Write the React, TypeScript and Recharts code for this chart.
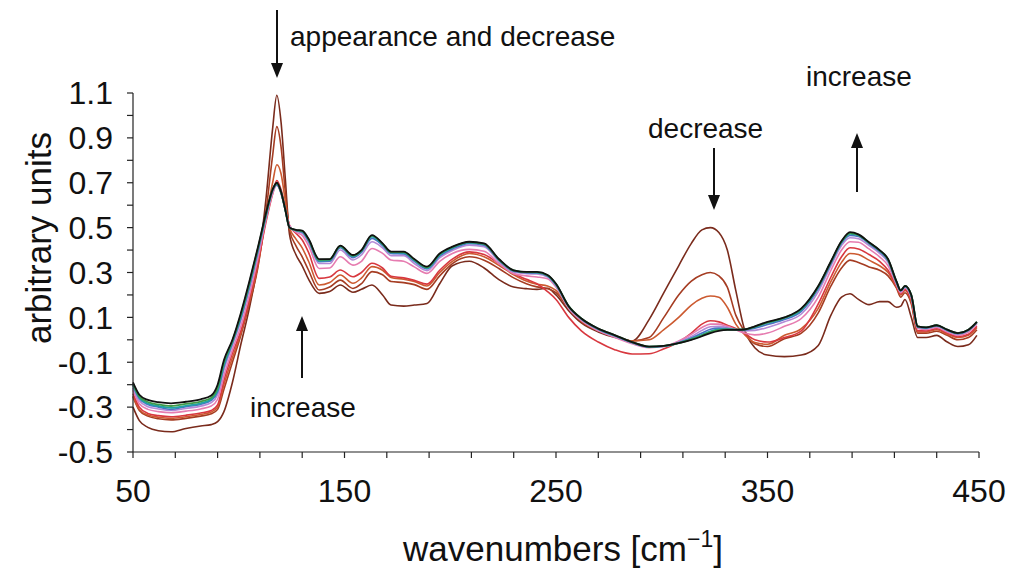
import React from "react";
import { LineChart, Line, XAxis, YAxis } from "recharts";

// wavenumber grid (cm-1) the spectra are sampled on
const WAVENUMBERS = [
  50, 53, 57, 62, 68, 75, 82, 87, 90, 93,
  97, 101, 105, 109, 113, 116, 118, 120, 122, 124,
  127, 130, 133, 138, 143, 148, 154, 158, 163, 168,
  172, 178, 183, 189, 195, 201, 209, 216, 223, 230,
  236, 241, 246, 250, 256, 262, 270, 278, 286, 294,
  301, 308, 314, 319, 323, 327, 331, 335, 339, 344,
  350, 358, 366, 374, 380, 385, 389, 393, 398, 403,
  407, 411, 413, 415, 418, 421, 425, 430, 435, 440,
  445, 449,
];

const S1 = [
  -0.3, -0.36, -0.39, -0.405, -0.41, -0.395, -0.384, -0.378, -0.365, -0.32,
  -0.19, -0.02, 0.14, 0.34, 0.64, 0.94, 1.09, 0.97, 0.72, 0.47,
  0.38, 0.33, 0.27, 0.207, 0.215, 0.244, 0.212, 0.225, 0.244, 0.2,
  0.155, 0.15, 0.155, 0.162, 0.25, 0.33, 0.35, 0.32, 0.268, 0.235,
  0.228, 0.225, 0.23, 0.2, 0.13, 0.075, 0.035, 0.01, -0.005, 0.09,
  0.21, 0.33, 0.43, 0.49, 0.5, 0.478, 0.4, 0.22, 0.05, -0.035,
  -0.068, -0.075, -0.068, -0.025, 0.11, 0.19, 0.205, 0.18, 0.157, 0.17,
  0.17, 0.145, 0.15, 0.18, 0.1, 0.01, 0.01, 0.02, -0.01, -0.03,
  -0.022, 0.02,
];
const S2 = [
  -0.255, -0.315, -0.34, -0.352, -0.357, -0.35, -0.34, -0.33, -0.31, -0.22,
  -0.1, 0.02, 0.16, 0.32, 0.58, 0.82, 0.95, 0.86, 0.66, 0.49,
  0.42, 0.37, 0.31, 0.222, 0.235, 0.266, 0.229, 0.25, 0.304, 0.29,
  0.26, 0.255, 0.246, 0.225, 0.285, 0.34, 0.37, 0.355, 0.318, 0.276,
  0.25, 0.236, 0.228, 0.21, 0.14, 0.08, 0.04, 0.015, -0.005, 0.01,
  0.1, 0.2, 0.262, 0.29, 0.3, 0.285, 0.235, 0.11, 0.04, -0.018,
  -0.03, 0.005, 0.03, 0.12, 0.24, 0.32, 0.355, 0.345, 0.325, 0.31,
  0.285, 0.23, 0.19, 0.21, 0.16, 0.03, 0.03, 0.038, 0.02, 0.0,
  0.01, 0.045,
];
const S3 = [
  -0.25, -0.31, -0.335, -0.345, -0.35, -0.343, -0.333, -0.322, -0.3, -0.2,
  -0.08, 0.03, 0.17, 0.33, 0.55, 0.7, 0.78, 0.74, 0.62, 0.5,
  0.45, 0.41, 0.35, 0.244, 0.255, 0.289, 0.252, 0.275, 0.326, 0.31,
  0.278, 0.27, 0.26, 0.24, 0.3, 0.35, 0.385, 0.37, 0.332, 0.29,
  0.262, 0.248, 0.24, 0.22, 0.145, 0.085, 0.042, 0.015, -0.005, 0.0,
  0.045, 0.1, 0.155, 0.185, 0.195, 0.19, 0.145, 0.07, 0.025, -0.012,
  -0.02, 0.02, 0.05, 0.14, 0.26, 0.345, 0.385, 0.38, 0.355, 0.33,
  0.3, 0.235, 0.2, 0.22, 0.17, 0.035, 0.035, 0.045, 0.025, 0.01,
  0.02, 0.055,
];
const S4 = [
  -0.24, -0.3, -0.328, -0.338, -0.343, -0.336, -0.326, -0.315, -0.29, -0.18,
  -0.06, 0.04, 0.18, 0.34, 0.53, 0.65, 0.71, 0.67, 0.59, 0.51,
  0.475, 0.445, 0.39, 0.274, 0.28, 0.311, 0.281, 0.3, 0.341, 0.32,
  0.283, 0.276, 0.265, 0.248, 0.31, 0.36, 0.392, 0.38, 0.34, 0.295,
  0.27, 0.25, 0.215, 0.18, 0.1, 0.04, -0.01, -0.045, -0.063, -0.062,
  -0.04, -0.01, 0.03, 0.07, 0.085, 0.08, 0.065, 0.05, 0.03, 0.0,
  -0.01, 0.01, 0.04, 0.16, 0.28, 0.37, 0.41, 0.405, 0.38, 0.35,
  0.31, 0.24, 0.205, 0.225, 0.175, 0.04, 0.04, 0.05, 0.03, 0.015,
  0.025, 0.06,
];
const S5 = [
  -0.225, -0.285, -0.31, -0.32, -0.325, -0.318, -0.308, -0.295, -0.265, -0.16,
  -0.045, 0.06, 0.2, 0.36, 0.54, 0.65, 0.69, 0.65, 0.58, 0.51,
  0.48, 0.465, 0.42, 0.318, 0.32, 0.37, 0.333, 0.35, 0.407, 0.385,
  0.356, 0.35, 0.325, 0.296, 0.35, 0.385, 0.403, 0.395, 0.34, 0.295,
  0.285, 0.28, 0.272, 0.235, 0.14, 0.085, 0.04, 0.01, -0.018, -0.035,
  -0.03, -0.005, 0.025, 0.055, 0.07, 0.07, 0.06, 0.045, 0.03, 0.022,
  0.03, 0.06, 0.095, 0.19, 0.31, 0.4, 0.437, 0.435, 0.405, 0.37,
  0.33, 0.245, 0.21, 0.23, 0.185, 0.05, 0.045, 0.055, 0.035, 0.02,
  0.035, 0.07,
];
const S6 = [
  -0.215, -0.272, -0.298, -0.308, -0.315, -0.306, -0.296, -0.28, -0.245, -0.135,
  -0.025, 0.085, 0.225, 0.38, 0.55, 0.66, 0.69, 0.655, 0.58, 0.505,
  0.485, 0.475, 0.435, 0.34, 0.34, 0.4, 0.356, 0.378, 0.437, 0.41,
  0.375, 0.375, 0.34, 0.308, 0.365, 0.398, 0.422, 0.415, 0.35, 0.302,
  0.295, 0.293, 0.28, 0.24, 0.145, 0.09, 0.045, 0.015, -0.014, -0.033,
  -0.03, -0.01, 0.015, 0.042, 0.058, 0.06, 0.055, 0.045, 0.04, 0.042,
  0.055, 0.08, 0.115, 0.215, 0.33, 0.42, 0.455, 0.45, 0.42, 0.385,
  0.345, 0.25, 0.215, 0.235, 0.19, 0.055, 0.05, 0.06, 0.04, 0.025,
  0.04, 0.075,
];
const S7 = [
  -0.205, -0.262, -0.288, -0.3, -0.31, -0.298, -0.288, -0.27, -0.232, -0.12,
  -0.015, 0.095, 0.235, 0.39, 0.555, 0.665, 0.69, 0.655, 0.58, 0.5,
  0.487, 0.48, 0.44, 0.348, 0.35, 0.41, 0.366, 0.39, 0.452, 0.42,
  0.385, 0.383, 0.35, 0.316, 0.373, 0.405, 0.43, 0.422, 0.355, 0.306,
  0.299, 0.298, 0.284, 0.245, 0.148, 0.093, 0.047, 0.017, -0.012, -0.032,
  -0.029, -0.013, 0.008, 0.03, 0.047, 0.052, 0.05, 0.045, 0.043, 0.052,
  0.068, 0.09, 0.127, 0.228, 0.34, 0.43, 0.465, 0.46, 0.428, 0.393,
  0.352, 0.255, 0.218, 0.237, 0.195, 0.057, 0.052, 0.062, 0.042, 0.027,
  0.042, 0.077,
];
const S8 = [
  -0.2, -0.258, -0.284, -0.295, -0.303, -0.294, -0.283, -0.265, -0.225, -0.11,
  -0.01, 0.105, 0.245, 0.4, 0.56, 0.668, 0.695, 0.657, 0.58, 0.5,
  0.488, 0.483, 0.445, 0.352, 0.355, 0.415, 0.372, 0.395, 0.46, 0.425,
  0.389, 0.388, 0.355, 0.32, 0.378, 0.41, 0.433, 0.426, 0.357, 0.308,
  0.301, 0.3, 0.286, 0.247, 0.149, 0.094, 0.048, 0.018, -0.011, -0.031,
  -0.028, -0.014, 0.004, 0.022, 0.038, 0.046, 0.047, 0.045, 0.045, 0.057,
  0.075, 0.096, 0.134, 0.234, 0.345, 0.435, 0.472, 0.465, 0.432, 0.397,
  0.356, 0.258, 0.22, 0.239, 0.198, 0.059, 0.054, 0.064, 0.044, 0.029,
  0.044, 0.079,
];
const S9 = [
  -0.195, -0.252, -0.277, -0.288, -0.295, -0.286, -0.275, -0.258, -0.213, -0.1,
  -0.005, 0.112, 0.252, 0.405, 0.565, 0.669, 0.697, 0.658, 0.58, 0.5,
  0.489, 0.485, 0.448, 0.356, 0.358, 0.418, 0.375, 0.398, 0.464, 0.428,
  0.391, 0.391, 0.358, 0.323, 0.382, 0.413, 0.435, 0.428, 0.358, 0.309,
  0.302, 0.302, 0.288, 0.249, 0.15, 0.095, 0.05, 0.02, -0.01, -0.03,
  -0.027, -0.015, 0.002, 0.019, 0.034, 0.043, 0.046, 0.045, 0.046, 0.059,
  0.078, 0.099, 0.138, 0.238, 0.348, 0.438, 0.476, 0.468, 0.434, 0.399,
  0.358, 0.259, 0.22, 0.24, 0.199, 0.06, 0.055, 0.065, 0.045, 0.03,
  0.045, 0.08,
];
const S10 = [
  -0.19, -0.245, -0.268, -0.278, -0.283, -0.276, -0.265, -0.248, -0.2, -0.09,
  0.0, 0.12, 0.26, 0.41, 0.57, 0.67, 0.7, 0.66, 0.58, 0.5,
  0.49, 0.487, 0.45, 0.36, 0.36, 0.42, 0.378, 0.4, 0.467, 0.43,
  0.393, 0.393, 0.36, 0.326, 0.385, 0.415, 0.437, 0.43, 0.36, 0.31,
  0.303, 0.303, 0.289, 0.25, 0.15, 0.095, 0.05, 0.02, -0.01, -0.03,
  -0.027, -0.015, 0.0, 0.016, 0.03, 0.04, 0.044, 0.044, 0.046, 0.06,
  0.08, 0.1, 0.14, 0.24, 0.35, 0.44, 0.48, 0.47, 0.435, 0.4,
  0.36, 0.26, 0.22, 0.24, 0.2, 0.06, 0.055, 0.065, 0.045, 0.03,
  0.045, 0.08,
];

const X_TICKS = [50, 70, 90, 110, 130, 150, 170, 190, 210, 230, 250, 270, 290, 310, 330, 350, 370, 390, 410, 430, 450];
const X_LABELS = [50, 150, 250, 350, 450];
const Y_TICKS = [-0.5, -0.4, -0.3, -0.2, -0.1, 0, 0.1, 0.2, 0.3, 0.4, 0.5, 0.6, 0.7, 0.8, 0.9, 1.0, 1.1];
const Y_LABELS = ["-0.5", "-0.3", "-0.1", "0.1", "0.3", "0.5", "0.7", "0.9", "1.1"];

const SERIES = [
  { key: "s1", values: S1, color: "#7a2b1c", width: 1.6 },
  { key: "s2", values: S2, color: "#a53c22", width: 1.6 },
  { key: "s3", values: S3, color: "#cc5a30", width: 1.6 },
  { key: "s4", values: S4, color: "#d8383f", width: 1.6 },
  { key: "s5", values: S5, color: "#e67cb0", width: 1.6 },
  { key: "s6", values: S6, color: "#b48ad6", width: 1.6 },
  { key: "s7", values: S7, color: "#4f6fc4", width: 1.6 },
  { key: "s8", values: S8, color: "#1fa3a6", width: 1.8 },
  { key: "s9", values: S9, color: "#3e9a4a", width: 1.8 },
  { key: "s10", values: S10, color: "#111111", width: 1.8 },
];

const FONT = "'Liberation Sans', Arial, Helvetica, sans-serif";

const data = WAVENUMBERS.map((x, i) => {
  const row: Record<string, number> = { x };
  SERIES.forEach((s) => {
    row[s.key] = s.values[i];
  });
  return row;
});

function Arrow({ x, y1, y2 }: { x: number; y1: number; y2: number }) {
  // y2 is the tip
  const dir = y2 > y1 ? 1 : -1;
  const head = 15;
  return (
    <g>
      <line x1={x} y1={y1} x2={x} y2={y2 - dir * head} stroke="#111" strokeWidth={2} />
      <polygon
        points={`${x - 6},${y2 - dir * head} ${x + 6},${y2 - dir * head} ${x},${y2}`}
        fill="#111"
      />
    </g>
  );
}

export default function App() {
  return (
    <div style={{ position: "absolute", left: 0, top: 0, width: 1011, height: 571, background: "#fff" }}>
      <LineChart
        width={1011}
        height={571}
        data={data}
        margin={{ top: 93, right: 32, bottom: 59, left: 53 }}
      >
        <XAxis
          type="number"
          dataKey="x"
          domain={[50, 450]}
          ticks={X_TICKS}
          interval={0}
          tickFormatter={(v: number) => (X_LABELS.includes(v) ? String(v) : "")}
          tick={{ fontSize: 32, fill: "#111", fontFamily: FONT }}
          tickSize={6}
          tickMargin={21}
          height={60}
          axisLine={{ stroke: "#222", strokeWidth: 1.2 }}
          tickLine={{ stroke: "#222", strokeWidth: 1.2 }}
        />
        <YAxis
          type="number"
          domain={[-0.5, 1.1]}
          ticks={Y_TICKS}
          interval={0}
          tickFormatter={(v: number) => {
            const t = v.toFixed(1);
            return Y_LABELS.includes(t) ? t : "";
          }}
          tick={{ fontSize: 32, fill: "#111", fontFamily: FONT }}
          tickSize={6}
          tickMargin={14}
          width={80}
          axisLine={{ stroke: "#222", strokeWidth: 1.2 }}
          tickLine={{ stroke: "#222", strokeWidth: 1.2 }}
        />
        {SERIES.map((s) => (
          <Line
            key={s.key}
            type="monotone"
            dataKey={s.key}
            stroke={s.color}
            strokeWidth={s.width}
            dot={false}
            activeDot={false}
            isAnimationActive={false}
          />
        ))}
      </LineChart>
      <svg
        width={1011}
        height={571}
        style={{ position: "absolute", left: 0, top: 0, pointerEvents: "none" }}
      >
        <g fontFamily={FONT} fill="#111">
          <text x={38} y={238} fontSize={35} textAnchor="middle" dominantBaseline="central" transform="rotate(-90 38 238)">
            arbitrary units
          </text>
          <text x={563} y={561} fontSize={35} textAnchor="middle">
            wavenumbers [cm
            <tspan dy={-14} fontSize={23}>−1</tspan>
            <tspan dy={14}>]</tspan>
          </text>
          <text x={290} y={46} fontSize={28}>appearance and decrease</text>
          <text x={648} y={138} fontSize={28}>decrease</text>
          <text x={806} y={86} fontSize={28}>increase</text>
          <text x={250} y={417} fontSize={28}>increase</text>
        </g>
        <Arrow x={277} y1={10} y2={78} />
        <Arrow x={714} y1={148} y2={210} />
        <Arrow x={857} y1={192} y2={133} />
        <Arrow x={302} y1={378} y2={316} />
      </svg>
    </div>
  );
}
